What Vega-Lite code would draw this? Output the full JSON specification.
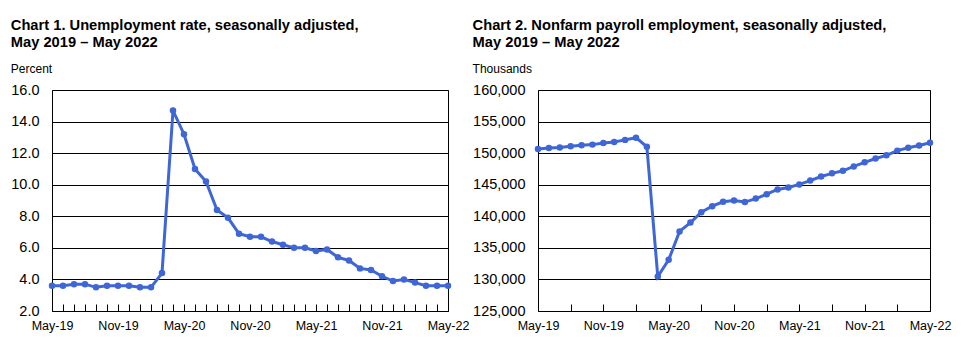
{
  "$schema": "https://vega.github.io/schema/vega-lite/v6.json",
  "padding": {"left": 10, "top": 17, "right": 5, "bottom": 5},
  "background": "white",
  "bounds": "flush",
  "spacing": 90,
  "config": {
    "font": "Liberation Sans",
    "view": {"stroke": "#000", "strokeWidth": 1},
    "axis": {"labelFont": "Liberation Sans", "labelColor": "#000", "titleColor": "#000"},
    "title": {
      "anchor": "start", "frame": "bounds", "font": "Liberation Sans", "fontSize": 14.7, "fontWeight": "bold",
      "color": "#000", "lineHeight": 17, "subtitleFont": "Liberation Sans", "subtitleFontSize": 12,
      "subtitleColor": "#000", "subtitlePadding": 14, "offset": 7
    }
  },
  "datasets": {
    "unemp": [
      {"month": "May-19", "value": 3.6}, {"month": "Jun-19", "value": 3.6}, {"month": "Jul-19", "value": 3.7},
      {"month": "Aug-19", "value": 3.7}, {"month": "Sep-19", "value": 3.5}, {"month": "Oct-19", "value": 3.6},
      {"month": "Nov-19", "value": 3.6}, {"month": "Dec-19", "value": 3.6}, {"month": "Jan-20", "value": 3.5},
      {"month": "Feb-20", "value": 3.5}, {"month": "Mar-20", "value": 4.4}, {"month": "Apr-20", "value": 14.7},
      {"month": "May-20", "value": 13.2}, {"month": "Jun-20", "value": 11.0}, {"month": "Jul-20", "value": 10.2},
      {"month": "Aug-20", "value": 8.4}, {"month": "Sep-20", "value": 7.9}, {"month": "Oct-20", "value": 6.9},
      {"month": "Nov-20", "value": 6.7}, {"month": "Dec-20", "value": 6.7}, {"month": "Jan-21", "value": 6.4},
      {"month": "Feb-21", "value": 6.2}, {"month": "Mar-21", "value": 6.0}, {"month": "Apr-21", "value": 6.0},
      {"month": "May-21", "value": 5.8}, {"month": "Jun-21", "value": 5.9}, {"month": "Jul-21", "value": 5.4},
      {"month": "Aug-21", "value": 5.2}, {"month": "Sep-21", "value": 4.7}, {"month": "Oct-21", "value": 4.6},
      {"month": "Nov-21", "value": 4.2}, {"month": "Dec-21", "value": 3.9}, {"month": "Jan-22", "value": 4.0},
      {"month": "Feb-22", "value": 3.8}, {"month": "Mar-22", "value": 3.6}, {"month": "Apr-22", "value": 3.6},
      {"month": "May-22", "value": 3.6}
    ],
    "payroll": [
      {"month": "May-19", "value": 150650}, {"month": "Jun-19", "value": 150800}, {"month": "Jul-19", "value": 150900},
      {"month": "Aug-19", "value": 151100}, {"month": "Sep-19", "value": 151250}, {"month": "Oct-19", "value": 151350},
      {"month": "Nov-19", "value": 151600}, {"month": "Dec-19", "value": 151750}, {"month": "Jan-20", "value": 152100},
      {"month": "Feb-20", "value": 152450}, {"month": "Mar-20", "value": 151000}, {"month": "Apr-20", "value": 130450},
      {"month": "May-20", "value": 133100}, {"month": "Jun-20", "value": 137600}, {"month": "Jul-20", "value": 139000},
      {"month": "Aug-20", "value": 140650}, {"month": "Sep-20", "value": 141600}, {"month": "Oct-20", "value": 142300},
      {"month": "Nov-20", "value": 142500}, {"month": "Dec-20", "value": 142250}, {"month": "Jan-21", "value": 142800},
      {"month": "Feb-21", "value": 143500}, {"month": "Mar-21", "value": 144250}, {"month": "Apr-21", "value": 144550},
      {"month": "May-21", "value": 145050}, {"month": "Jun-21", "value": 145650}, {"month": "Jul-21", "value": 146300},
      {"month": "Aug-21", "value": 146800}, {"month": "Sep-21", "value": 147200}, {"month": "Oct-21", "value": 147900},
      {"month": "Nov-21", "value": 148550}, {"month": "Dec-21", "value": 149150}, {"month": "Jan-22", "value": 149650},
      {"month": "Feb-22", "value": 150400}, {"month": "Mar-22", "value": 150850}, {"month": "Apr-22", "value": 151200},
      {"month": "May-22", "value": 151650}
    ]
  },
  "hconcat": [
    {
      "width": 396,
      "height": 221,
      "title": {"text": ["Chart 1. Unemployment rate, seasonally adjusted,", "May 2019 – May 2022"], "subtitle": "Percent"},
      "data": {"name": "unemp"},
      "encoding": {
        "x": {
          "field": "month", "type": "ordinal", "sort": null,
          "scale": {"type": "point", "padding": 0},
          "axis": {
            "title": null, "domain": false, "grid": false, "ticks": true, "tickSize": 7, "offset": -7,
            "tickColor": "#000", "tickWidth": 1, "zindex": 1,
            "labelAngle": 0, "labelFontSize": 12.5, "labelPadding": 8, "labelOverlap": false,
            "labelExpr": "slice(datum.value,0,3)=='May' || slice(datum.value,0,3)=='Nov' ? datum.value : ''"
          }
        },
        "y": {
          "field": "value", "type": "quantitative",
          "scale": {"domain": [2, 16], "nice": false, "zero": false},
          "axis": {
            "title": null, "values": [2, 4, 6, 8, 10, 12, 14, 16], "format": ".1f", "domain": false, "ticks": false,
            "grid": true, "gridColor": "#000", "gridOpacity": 1, "gridWidth": 1,
            "labelFontSize": 14.5, "labelPadding": 13
          }
        }
      },
      "layer": [
        {"mark": {"type": "line", "color": "#3F66D6", "strokeWidth": 3}},
        {"mark": {"type": "point", "filled": true, "color": "#3F66D6", "size": 42, "opacity": 1}}
      ]
    },
    {
      "width": 392,
      "height": 221,
      "title": {"text": ["Chart 2. Nonfarm payroll employment, seasonally adjusted,", "May 2019 – May 2022"], "subtitle": "Thousands"},
      "data": {"name": "payroll"},
      "encoding": {
        "x": {
          "field": "month", "type": "ordinal", "sort": null,
          "scale": {"type": "point", "padding": 0},
          "axis": {
            "title": null, "domain": false, "grid": false, "ticks": true, "tickSize": 7, "offset": -7,
            "tickColor": "#000", "tickWidth": 1, "zindex": 1,
            "values": ["May-19", "Aug-19", "Nov-19", "Feb-20", "May-20", "Aug-20", "Nov-20", "Feb-21", "May-21", "Aug-21", "Nov-21", "Feb-22", "May-22"],
            "labelAngle": 0, "labelFontSize": 12.5, "labelPadding": 8, "labelOverlap": false,
            "labelExpr": "slice(datum.value,0,3)=='May' || slice(datum.value,0,3)=='Nov' ? datum.value : ''"
          }
        },
        "y": {
          "field": "value", "type": "quantitative",
          "scale": {"domain": [125000, 160000], "nice": false, "zero": false},
          "axis": {
            "title": null, "values": [125000, 130000, 135000, 140000, 145000, 150000, 155000, 160000], "format": ",d",
            "domain": false, "ticks": false,
            "grid": true, "gridColor": "#000", "gridOpacity": 1, "gridWidth": 1,
            "labelFontSize": 14.5, "labelPadding": 13
          }
        }
      },
      "layer": [
        {"mark": {"type": "line", "color": "#3F66D6", "strokeWidth": 3}},
        {"mark": {"type": "point", "filled": true, "color": "#3F66D6", "size": 42, "opacity": 1}}
      ]
    }
  ]
}
